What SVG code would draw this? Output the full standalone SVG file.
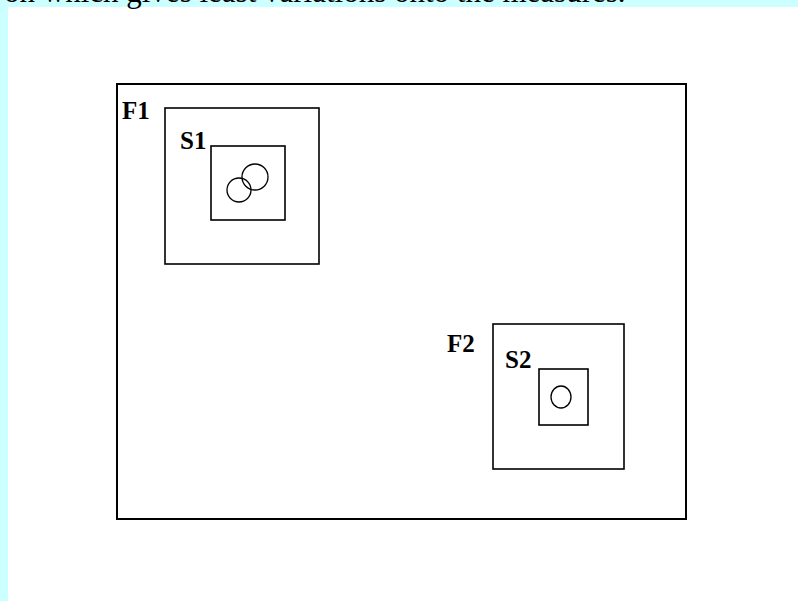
<svg xmlns="http://www.w3.org/2000/svg" width="798" height="601" viewBox="0 0 798 601">
  <style>
    .box { fill: none; stroke: #000; stroke-width: 1.6; }
    .outer { fill: none; stroke: #000; stroke-width: 2; }
    .ring { fill: none; stroke: #000; stroke-width: 1.3; }
    .lbl { font-family: "Liberation Serif", "Times New Roman", serif; font-weight: bold; font-size: 25px; fill: #000; }
    .body { font-family: "Liberation Serif", "Times New Roman", serif; font-size: 31px; fill: #000; }
  </style>
  <rect x="0" y="0" width="798" height="601" fill="#ccffff"/>
  <rect x="8" y="7" width="790" height="594" fill="#ffffff"/>
  <text class="body" x="4" y="2">on which gives least variations onto the measures.</text>

  <g id="frame">
    <rect class="outer" x="117" y="84" width="569" height="435"/>
  </g>

  <g id="F1">
    <rect class="box" x="165" y="108" width="154" height="156"/>
    <text class="lbl" x="122" y="119">F1</text>
  </g>
  <g id="S1">
    <rect class="box" x="211" y="146" width="74" height="74"/>
    <text class="lbl" x="180" y="149">S1</text>
    <circle class="ring" cx="255" cy="177" r="13"/>
    <circle class="ring" cx="239" cy="190" r="12"/>
  </g>

  <g id="F2">
    <rect class="box" x="493" y="324" width="131" height="145"/>
    <text class="lbl" x="447" y="352">F2</text>
  </g>
  <g id="S2">
    <rect class="box" x="539" y="369" width="49" height="56"/>
    <text class="lbl" x="505" y="368">S2</text>
    <ellipse class="ring" cx="561" cy="397" rx="10" ry="11"/>
  </g>
</svg>
